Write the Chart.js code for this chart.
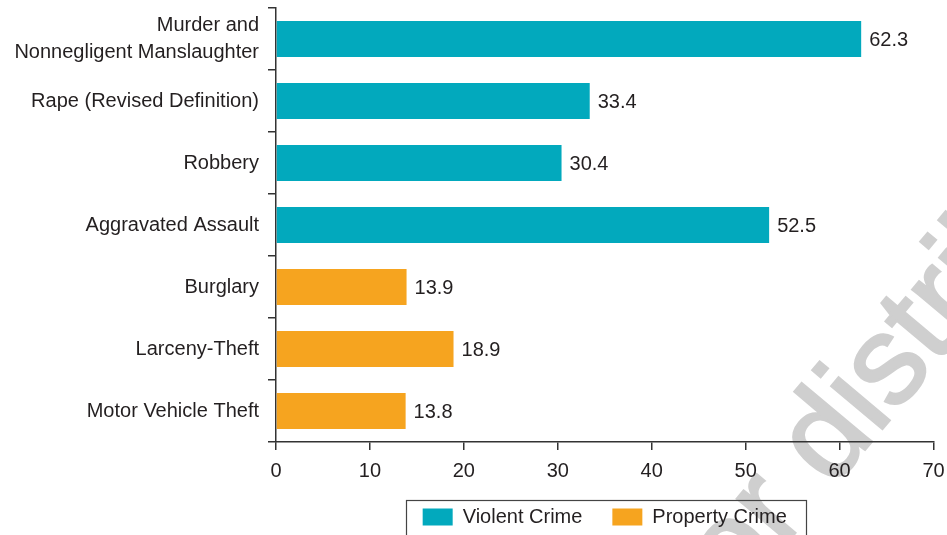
<!DOCTYPE html>
<html><head><meta charset="utf-8">
<script src="https://cdn.jsdelivr.net/npm/chart.js@4.4.1/dist/chart.umd.min.js"></script>
<style>html,body{margin:0;padding:0;background:#fff;overflow:hidden;}</style>
</head><body>
<canvas id="c" width="947" height="535"></canvas>
<script>
const categories = [["Murder and", "Nonnegligent Manslaughter"], "Rape (Revised Definition)", "Robbery", "Aggravated Assault", "Burglary", "Larceny-Theft", "Motor Vehicle Theft"];
const violentValues = [62.3, 33.4, 30.4, 52.5, null, null, null];
const propertyValues = [null, null, null, null, 13.9, 18.9, 13.8];
const xTickValues = [0, 10, 20, 30, 40, 50, 60, 70];
const seriesNames = ["Violent Crime", "Property Crime"];
const seriesColors = ["#02A9BD", "#F6A41F"];
const watermarkText = "Do not copy, post, or distribute";

const FONT = "'Liberation Sans', Arial, sans-serif";
const TEXT = "#231F20";
const AXIS = "#333333";

const watermark = {
  id: 'watermark',
  beforeDraw(chart) {
    const ctx = chart.ctx;
    ctx.save();
    ctx.font = "126px " + FONT;
    const pre = ctx.measureText("Do not copy, post, or ").width;
    ctx.translate(832, 489);
    ctx.rotate(-50 * Math.PI / 180);
    ctx.fillStyle = "#cfcfcf";
    ctx.strokeStyle = "#cfcfcf";
    ctx.lineWidth = 2.5;
    ctx.textBaseline = "alphabetic";
    ctx.textAlign = "left";
    ctx.fillText(watermarkText, -pre, 0);
    ctx.strokeText(watermarkText, -pre, 0);
    ctx.restore();
  }
};

const valueLabels = {
  id: 'valueLabels',
  afterDatasetsDraw(chart) {
    const ctx = chart.ctx;
    ctx.save();
    ctx.font = "20px " + FONT;
    ctx.fillStyle = TEXT;
    ctx.textAlign = "left";
    ctx.textBaseline = "middle";
    chart.data.datasets.forEach((ds, di) => {
      const meta = chart.getDatasetMeta(di);
      meta.data.forEach((el, i) => {
        const v = ds.data[i];
        if (v === null || v === undefined) return;
        ctx.fillText(v.toFixed(1), el.x + 8, el.y + 1);
      });
    });
    ctx.restore();
  }
};

const legendBorder = {
  id: 'legendBorder',
  afterDraw(chart) {
    const lg = chart.legend;
    if (!lg || !lg.legendHitBoxes || !lg.legendHitBoxes.length) return;
    const hb = lg.legendHitBoxes;
    let l = Infinity, r = -Infinity, cy = 0;
    hb.forEach(h => { l = Math.min(l, h.left); r = Math.max(r, h.left + h.width); cy = h.top + h.height / 2; });
    const ctx = chart.ctx;
    ctx.save();
    ctx.strokeStyle = "#444";
    ctx.lineWidth = 1.2;
    ctx.strokeRect(Math.round(l - 17) + 0.5, Math.round(cy - 17) + 0.5, Math.round(r - l + 36), 60);
    ctx.restore();
  }
};

new Chart(document.getElementById('c'), {
  type: 'bar',
  data: {
    labels: categories,
    datasets: [
      { label: seriesNames[0], data: violentValues, backgroundColor: seriesColors[0], borderWidth: 0, barPercentage: 0.58, categoryPercentage: 1 },
      { label: seriesNames[1], data: propertyValues, backgroundColor: seriesColors[1], borderWidth: 0, barPercentage: 0.58, categoryPercentage: 1 }
    ]
  },
  options: {
    indexAxis: 'y',
    responsive: false,
    animation: false,
    events: [],
    grouped: false,
    layout: { padding: { top: 8, right: 13.5, left: 0, bottom: -2 } },
    plugins: {
      tooltip: { enabled: false },
      legend: {
        position: 'bottom',
        fullSize: false,
        labels: {
          font: { size: 20, family: FONT },
          color: TEXT,
          boxWidth: 30,
          boxHeight: 17,
          padding: 30
        }
      }
    },
    scales: {
      x: {
        min: 0, max: 70,
        afterBuildTicks(scale) { scale.ticks = xTickValues.map(v => ({ value: v })); },
        ticks: { color: TEXT, font: { size: 20, family: FONT }, padding: 9, maxRotation: 0 },
        grid: { drawOnChartArea: false, drawTicks: true, tickLength: 8, color: AXIS, lineWidth: 1.5 },
        border: { color: AXIS, width: 1.5 },
        afterFit(scale) { scale.height = 35; scale.paddingLeft = 0; scale.paddingRight = 0; }
      },
      y: {
        ticks: { color: TEXT, font: { size: 20, family: FONT, lineHeight: 1.38 }, padding: 9 },
        grid: { offset: true, drawOnChartArea: false, drawTicks: true, tickLength: 8, color: AXIS, lineWidth: 1.5 },
        border: { color: AXIS, width: 1.5 },
        afterFit(scale) { scale.width = 276; scale.paddingTop = 0; scale.paddingBottom = 0; }
      }
    }
  },
  plugins: [watermark, valueLabels, legendBorder]
});
</script>
</body></html>
